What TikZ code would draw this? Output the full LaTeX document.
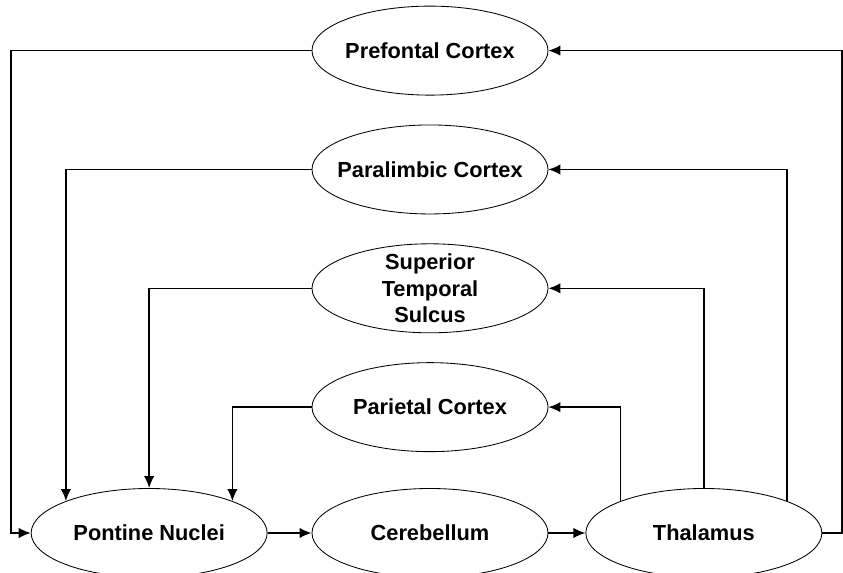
\documentclass[tikz,border=0pt]{standalone}
\usepackage{fontspec}
\setmainfont{Liberation Sans}
\usepackage{tikz}
\usetikzlibrary{shapes.geometric, arrows.meta, positioning}
\tikzset{
	region/.style={
		ellipse,
		minimum width=5.9cm,
		minimum height=2.225cm,
		inner xsep=-8pt,
		inner ysep=1pt,
		align=center,
		draw=black,
		line width=0.6pt,
		font=\fontsize{15.5}{19}\selectfont\bfseries
	},
	arrow/.style={line width=1.1pt,-{Latex[length=3mm,width=2.6mm]}}
}

\begin{document}
\begin{tikzpicture}[node distance=0.725cm]
	\useasboundingbox (-10.75,-1.0) rectangle (10.325,13.325);
	\node (cereb) [region] at (0,0) {Cerebellum};
	\node (pontine) [region, left=1.1cm of cereb] {Pontine Nuclei};
	\node (thal) [region, right=0.925cm of cereb] {Thalamus};
	\node (pariet) [region, above=0.9cm of cereb] {Parietal Cortex};
	\node (sulcus) [region, inner ysep=-3pt, above=of pariet] {Superior\\Temporal\\Sulcus};
	\node (paralimb) [region, above=of sulcus] {Paralimbic Cortex};
	\node (prefront) [region, above=of paralimb] {Prefontal Cortex};

	\draw [arrow] (pontine) -- (cereb);
	\draw [arrow] (cereb) -- (thal);
	% loops back from the thalamus to the cortex
	\draw [arrow] (thal.east) -- ([xshift=0.5cm]thal.east) |- (prefront.east);
	\draw [arrow] (thal.21) |- (paralimb.east);
	\draw [arrow] (thal.north) |- (sulcus.east);
	\draw [arrow] (thal.159) |- (pariet.east);
	% and down to the pontine nuclei
	\draw [arrow] (prefront.west) -| ([xshift=-0.5cm]pontine.west) -- (pontine.west);
	\draw [arrow] (paralimb.west) -| (pontine.159);
	\draw [arrow] (sulcus.west) -| (pontine.north);
	\draw [arrow] (pariet.west) -| (pontine.21);
\end{tikzpicture}
\end{document}
